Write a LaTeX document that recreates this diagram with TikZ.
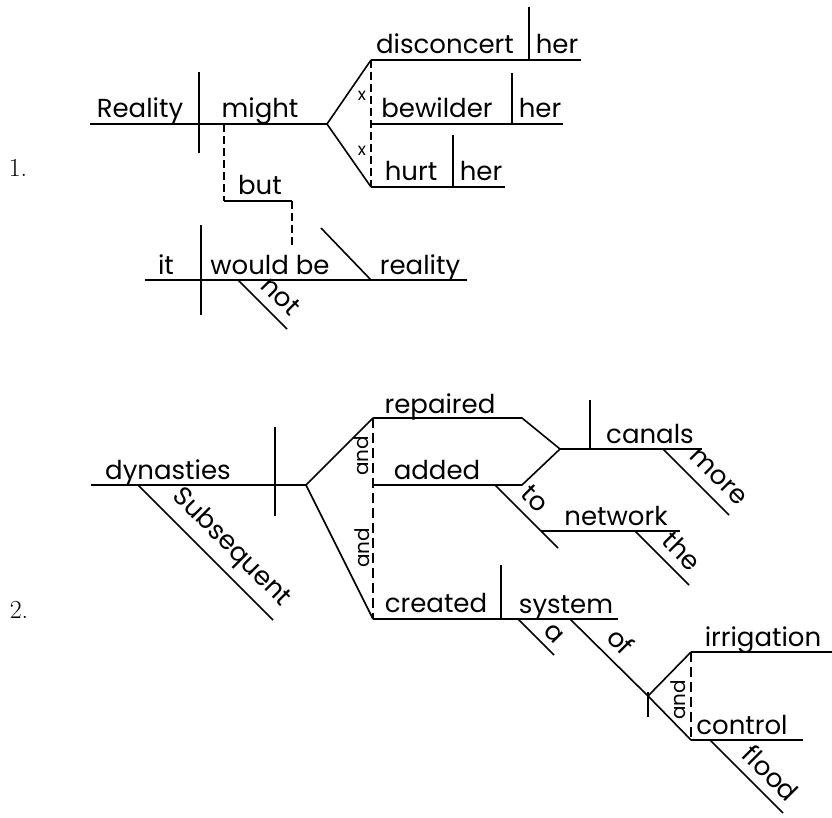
\documentclass[tikz,border=0pt]{standalone}
\usepackage{fontspec}
\newfontfamily\hand{Poppins}
\begin{document}
\begin{tikzpicture}[x=1pt,y=-1pt,line width=1.6pt,
  word/.style={font=\hand\fontsize{26}{30}\selectfont,anchor=base,inner sep=0pt},
  slantword/.style={word,anchor=center,rotate=-45},
  conjword/.style={font=\hand\fontsize{20}{24}\selectfont,anchor=center,inner sep=0pt,rotate=90},
  xmark/.style={font=\hand\fontsize{17}{20}\selectfont,anchor=center,inner sep=0pt},
  num/.style={font=\fontsize{26}{30}\selectfont,anchor=center,inner sep=0pt},
  joinA/.style={dash pattern=on 8pt off 4pt},
  joinB/.style={dash pattern=on 10pt off 5pt}]
\useasboundingbox (0,0) rectangle (832,818);

% ---------- Sentence 1 ----------
\node[num] (n1) at (18,168) {1.};

\coordinate (s1a) at (90,124);
\coordinate (s1f) at (327,124);
\coordinate (s1dt) at (199,72);
\coordinate (s1db) at (199,153);
\coordinate (vA) at (371,60);   \coordinate (vAe) at (581,60);
\coordinate (vB) at (371,124);  \coordinate (vBe) at (563,124);
\coordinate (vC) at (371,187);  \coordinate (vCe) at (505,187);
\coordinate (oAt) at (529,7);   \coordinate (oAb) at (529,60);
\coordinate (oBt) at (512,73);  \coordinate (oBb) at (512,124);
\coordinate (oCt) at (453,135); \coordinate (oCb) at (453,187);

\draw (s1a) -- (s1f);
\draw (s1dt) -- (s1db);
\draw (vA) -- (s1f) -- (vC);
\draw (vA) -- (vAe);
\draw (vB) -- (vBe);
\draw (vC) -- (vCe);
\draw (oAt) -- (oAb);
\draw (oBt) -- (oBb);
\draw (oCt) -- (oCb);
\draw[joinA] (vA) -- (vC);

\node[word] (wReality) at (140,118) {Reality};
\node[word] (wmight) at (260,118) {might};
\node[word] (wdis) at (445,54) {disconcert};
\node[word] (wher1) at (557,54) {her};
\node[word] (wbew) at (437,118) {bewilder};
\node[word] (wher2) at (540,118) {her};
\node[word] (whurt) at (411,181) {hurt};
\node[word] (wher3) at (481,181) {her};
\node[xmark] (x1) at (362,96) {x};
\node[xmark] (x2) at (362,151) {x};

% conjunction "but" joining the two clauses
\coordinate (bA) at (224,124);
\coordinate (bB) at (224,201);
\coordinate (bC) at (292,201);
\coordinate (bD) at (292,245);
\draw[joinA] (bA) -- (bB);
\draw (bB) -- (bC);
\draw[joinA] (bC) -- (bD);
\node[word] (wbut) at (260,195) {but};

% second clause
\coordinate (c2a) at (145,280);
\coordinate (c2e) at (467,280);
\coordinate (c2dt) at (201,225);
\coordinate (c2db) at (201,315);
\coordinate (c2ct) at (321,228);
\coordinate (c2cb) at (371,280);
\coordinate (c2na) at (238,280);
\coordinate (c2nb) at (287,329);
\draw (c2a) -- (c2e);
\draw (c2dt) -- (c2db);
\draw (c2ct) -- (c2cb);
\draw (c2na) -- (c2nb);
\node[word] (wit) at (166,274) {it};
\node[word] (wwb) at (270,274) {would be};
\node[word] (wreal) at (420,274) {reality};
\node[slantword] (wnot) at (281,296) {not};

% ---------- Sentence 2 ----------
\node[num] (n2) at (19,610) {2.};

\coordinate (s2a) at (91,485);
\coordinate (s2f) at (306,485);
\coordinate (s2dt) at (275,427);
\coordinate (s2db) at (275,516);
\coordinate (mSa) at (138,485);
\coordinate (mSb) at (273,620);
\draw (s2a) -- (s2f);
\draw (s2dt) -- (s2db);
\draw (mSa) -- (mSb);
\node[word] (wdyn) at (168,479) {dynasties};
\node[slantword] (wsub) at (231,548) {Subsequent};

\coordinate (pR) at (373,418);
\coordinate (pA) at (373,485);
\coordinate (pC) at (373,619);
\coordinate (pRk) at (522,418);
\coordinate (pAk) at (522,485);
\coordinate (pJ) at (560,449);
\coordinate (pJe) at (702,449);
\coordinate (oDt) at (590,400);
\coordinate (oDb) at (590,449);
\draw (pR) -- (s2f) -- (pC);
\draw (pR) -- (pRk) -- (pJ);
\draw (pA) -- (pAk) -- (pJ);
\draw (pJ) -- (pJe);
\draw (oDt) -- (oDb);
\draw[joinB] (pR) -- (pC);
\node[word] (wrep) at (440,413) {repaired};
\node[word] (wadd) at (437,479) {added};
\node[word] (wcan) at (650,443) {canals};
\node[conjword] (and1) at (361,456) {and};
\node[conjword] (and2) at (362,548) {and};

\coordinate (mMa) at (663,449);
\coordinate (mMb) at (729,515);
\draw (mMa) -- (mMb);
\node[slantword] (wmore) at (718,477) {more};

% prepositional phrase "to the network"
\coordinate (tA) at (495,485);
\coordinate (tB) at (558,548);
\coordinate (tN) at (541,531);
\coordinate (tNe) at (680,531);
\coordinate (tTa) at (635,531);
\coordinate (tTb) at (689,585);
\draw (tA) -- (tB);
\draw (tN) -- (tNe);
\draw (tTa) -- (tTb);
\node[slantword] (wto) at (535,499) {to};
\node[word] (wnet) at (616,525) {network};
\node[slantword] (wthe) at (682,551) {the};

% "created a system of irrigation and flood control"
\coordinate (cE) at (618,619);
\coordinate (oEt) at (501,565);
\coordinate (oEb) at (501,619);
\coordinate (aA) at (518,619);
\coordinate (aB) at (554,655);
\coordinate (ofA) at (570,619);
\coordinate (ofF) at (648,696);
\coordinate (ofT) at (648,717);
\coordinate (ofTt) at (648,692);
\coordinate (gI) at (691,652);
\coordinate (gIe) at (832,652);
\coordinate (gC) at (691,740);
\coordinate (gCe) at (803,740);
\coordinate (fA) at (710,740);
\coordinate (fB) at (783,813);
\draw (pC) -- (cE);
\draw (oEt) -- (oEb);
\draw (aA) -- (aB);
\draw (ofA) -- (ofF) -- (gC);
\draw (ofF) -- (gI);
\draw (ofTt) -- (ofT);
\draw (gI) -- (gIe);
\draw (gC) -- (gCe);
\draw (fA) -- (fB);
\draw[joinB] (gI) -- (gC);
\node[word] (wcre) at (436,612) {created};
\node[word] (wsys) at (566,613) {system};
\node[slantword] (wa) at (554,634) {a};
\node[slantword] (wof) at (621,641) {of};
\node[word] (wirr) at (763,646) {irrigation};
\node[word] (wcon) at (742,734) {control};
\node[slantword] (wflood) at (771,773) {flood};
\node[conjword] (and3) at (678,700) {and};
\end{tikzpicture}
\end{document}
